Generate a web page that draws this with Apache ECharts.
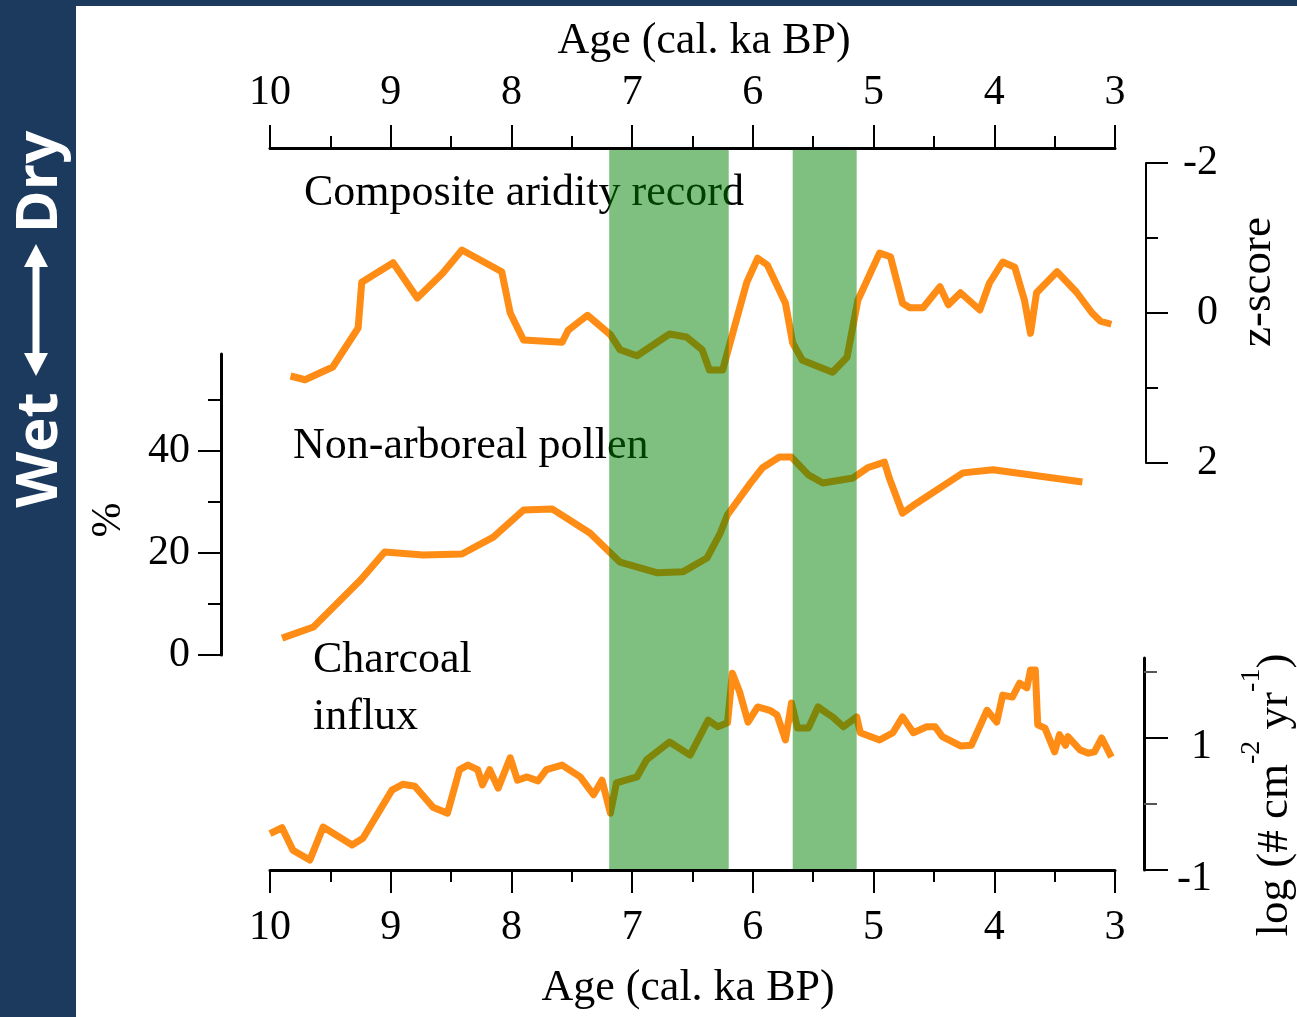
<!DOCTYPE html>
<html><head><meta charset="utf-8">
<script src="https://cdn.jsdelivr.net/npm/echarts@6/dist/echarts.min.js"></script>
<style>html,body{margin:0;padding:0;background:#fff}#c{width:1297px;height:1017px}</style>
</head><body><div id="c"></div>
<script>
// ---- data ----
const compositeAge = [9.83, 9.71, 9.48, 9.27, 9.24, 8.98, 8.78, 8.57, 8.41, 8.08, 8.01, 7.90, 7.58, 7.53, 7.37, 7.18, 7.10, 6.96, 6.69, 6.55, 6.42, 6.36, 6.25, 6.16, 6.05, 5.96, 5.88, 5.73, 5.67, 5.59, 5.34, 5.22, 5.13, 4.95, 4.86, 4.76, 4.70, 4.59, 4.45, 4.38, 4.28, 4.12, 4.04, 3.93, 3.83, 3.75, 3.70, 3.65, 3.48, 3.32, 3.19, 3.12, 3.03];
const compositeZ = [0.84, 0.89, 0.72, 0.20, -0.41, -0.67, -0.20, -0.53, -0.84, -0.55, 0.00, 0.36, 0.39, 0.23, 0.03, 0.29, 0.49, 0.57, 0.28, 0.32, 0.49, 0.76, 0.76, 0.23, -0.41, -0.73, -0.64, -0.13, 0.40, 0.63, 0.79, 0.59, -0.17, -0.80, -0.75, -0.13, -0.07, -0.07, -0.35, -0.11, -0.27, -0.04, -0.40, -0.68, -0.61, -0.17, 0.27, -0.27, -0.55, -0.28, 0.00, 0.11, 0.15];

const pollenAge = [9.90, 9.64, 9.25, 9.05, 8.73, 8.41, 8.15, 7.90, 7.66, 7.35, 7.10, 6.79, 6.58, 6.38, 6.27, 6.21, 6.02, 5.92, 5.78, 5.68, 5.54, 5.42, 5.17, 5.05, 4.91, 4.87, 4.76, 4.64, 4.26, 4.01, 3.27];
const pollenPct = [3.3, 5.5, 14.7, 20.2, 19.6, 19.8, 23.1, 28.4, 28.6, 23.9, 18.2, 16.1, 16.3, 19.0, 23.9, 27.5, 33.7, 36.7, 38.8, 38.8, 35.3, 33.7, 34.7, 36.7, 37.8, 34.7, 27.8, 29.8, 35.7, 36.3, 33.9];

const charcoalAge = [10.00, 9.90, 9.81, 9.67, 9.56, 9.32, 9.23, 8.99, 8.90, 8.80, 8.65, 8.53, 8.43, 8.36, 8.28, 8.24, 8.18, 8.11, 8.01, 7.95, 7.87, 7.78, 7.71, 7.58, 7.43, 7.32, 7.25, 7.18, 7.13, 6.96, 6.88, 6.69, 6.52, 6.37, 6.29, 6.21, 6.17, 6.11, 6.04, 5.96, 5.86, 5.80, 5.73, 5.68, 5.63, 5.54, 5.46, 5.39, 5.34, 5.25, 5.14, 5.11, 4.95, 4.84, 4.76, 4.67, 4.56, 4.49, 4.43, 4.28, 4.19, 4.06, 3.98, 3.93, 3.85, 3.79, 3.73, 3.70, 3.66, 3.64, 3.58, 3.50, 3.46, 3.41, 3.39, 3.29, 3.22, 3.17, 3.11, 3.03];
const charcoalLog = [-0.45, -0.36, -0.70, -0.85, -0.35, -0.62, -0.52, 0.21, 0.30, 0.27, -0.05, -0.14, 0.52, 0.59, 0.52, 0.29, 0.52, 0.24, 0.70, 0.36, 0.41, 0.35, 0.52, 0.59, 0.41, 0.14, 0.36, -0.14, 0.32, 0.41, 0.67, 0.94, 0.74, 1.27, 1.17, 1.23, 1.98, 1.70, 1.24, 1.47, 1.42, 1.35, 0.97, 1.53, 1.15, 1.15, 1.47, 1.38, 1.32, 1.17, 1.32, 1.08, 0.97, 1.08, 1.32, 1.08, 1.17, 1.17, 1.02, 0.88, 0.89, 1.42, 1.24, 1.65, 1.62, 1.83, 1.76, 2.03, 2.03, 1.20, 1.15, 0.79, 1.05, 0.89, 1.02, 0.82, 0.77, 0.79, 1.00, 0.71];

const greenBands = [[7.19, 6.20], [5.67, 5.14]];

const pctLongTicks = [0, 20, 40];
const pctShortTicks = [10, 30, 50];
const charLongTicks = [-1, 1];
const charShortTicks = [0, 2];

// ---- styles ----
const SERIF = '"Liberation Serif", "Times New Roman", serif';
const ORANGE = '#ff8c14';
const NAVY = '#1c3a5e';
const LW = 7;
const zip = (a, b) => a.map((v, i) => [v, b[i]]);
const blk = (w) => ({ color: '#000', width: w });

function hiddenX(gi) {
  return { type: 'value', gridIndex: gi, min: 3, max: 10, inverse: true, show: false };
}
const ageAxisCommon = {
  type: 'value', gridIndex: 0, min: 3, max: 10, inverse: true, interval: 1, z: 20,
  axisLine: { show: true, onZero: false, lineStyle: blk(3) },
  axisTick: { show: true, length: 23, lineStyle: blk(2) },
  minorTick: { show: true, splitNumber: 2, length: 12, lineStyle: blk(2) },
  splitLine: { show: false }, minorSplitLine: { show: false }
};

const option = {
  animation: false,
  backgroundColor: '#fff',
  grid: [
    { left: 270, top: 148, width: 845, height: 722 },
    { left: 270, top: 163, width: 845, height: 300 },
    { left: 270, top: 354, width: 845, height: 301 },
    { left: 270, top: 658, width: 845, height: 212 }
  ],
  xAxis: [
    Object.assign({}, ageAxisCommon, { position: 'top',
      axisLabel: { fontFamily: SERIF, fontSize: 42, color: '#000', margin: 34 } }),
    Object.assign({}, ageAxisCommon, { position: 'bottom',
      axisLabel: { fontFamily: SERIF, fontSize: 42, color: '#000', margin: 37 } }),
    hiddenX(1), hiddenX(2), hiddenX(3)
  ],
  yAxis: [
    { type: 'value', gridIndex: 0, min: 0, max: 1, show: false },
    { type: 'value', gridIndex: 1, position: 'right', offset: 31, min: -2, max: 2, inverse: true, interval: 2,
      axisLine: { show: true, onZero: false, lineStyle: blk(2) },
      axisTick: { show: true, length: 22, lineStyle: blk(2) },
      minorTick: { show: true, splitNumber: 2, length: 12, lineStyle: blk(2) },
      splitLine: { show: false }, minorSplitLine: { show: false },
      axisLabel: { fontFamily: SERIF, fontSize: 42, color: '#000', align: 'right', margin: 72 } },
    { type: 'value', gridIndex: 2, position: 'left', offset: 49, min: 0, max: 59,
      axisLine: { show: true, onZero: false, lineStyle: blk(3) },
      axisTick: { show: true, length: 23, customValues: pctLongTicks, lineStyle: blk(2) },
      splitLine: { show: false },
      axisLabel: { customValues: pctLongTicks, fontFamily: SERIF, fontSize: 42, color: '#000', margin: 31 } },
    { type: 'value', gridIndex: 2, position: 'left', offset: 49, min: 0, max: 59,
      axisLine: { show: false },
      axisTick: { show: true, length: 13, customValues: pctShortTicks, lineStyle: blk(2) },
      splitLine: { show: false }, axisLabel: { show: false } },
    { type: 'value', gridIndex: 3, position: 'right', offset: 29, min: -1, max: 2.212,
      axisLine: { show: true, onZero: false, lineStyle: blk(3) },
      axisTick: { show: true, length: 24, customValues: charLongTicks, lineStyle: blk(2) },
      splitLine: { show: false },
      axisLabel: { customValues: charLongTicks, fontFamily: SERIF, fontSize: 42, color: '#000', align: 'right', margin: 68,
        verticalAlign: 'top', lineHeight: 18 } },
    { type: 'value', gridIndex: 3, position: 'right', offset: 29, min: -1, max: 2.212,
      axisLine: { show: false },
      axisTick: { show: true, length: 13, customValues: charShortTicks, lineStyle: { color: '#555', width: 2 } },
      splitLine: { show: false }, axisLabel: { show: false } }
  ],
  series: [
    { name: 'Composite aridity record', type: 'line', xAxisIndex: 2, yAxisIndex: 1, data: zip(compositeAge, compositeZ),
      symbol: 'none', z: 5, silent: true, lineStyle: { color: ORANGE, width: LW, join: 'round' } },
    { name: 'Non-arboreal pollen', type: 'line', xAxisIndex: 3, yAxisIndex: 2, data: zip(pollenAge, pollenPct),
      symbol: 'none', z: 5, silent: true, lineStyle: { color: ORANGE, width: LW, join: 'round' } },
    { name: 'Charcoal influx', type: 'line', xAxisIndex: 4, yAxisIndex: 4, data: zip(charcoalAge, charcoalLog),
      symbol: 'none', z: 5, silent: true, lineStyle: { color: ORANGE, width: LW, join: 'round' } },
    { name: 'bands', type: 'line', xAxisIndex: 0, yAxisIndex: 0, data: [[10, 0]], symbol: 'none', z: 10, silent: true,
      lineStyle: { opacity: 0 },
      markArea: { z: 10, silent: true, itemStyle: { color: 'rgba(0,128,0,0.5)' }, label: { show: false },
        data: greenBands.map(b => [{ xAxis: b[0] }, { xAxis: b[1] }]) } }
  ],
  graphic: [
    { type: 'rect', shape: { x: 0, y: 0, width: 76, height: 1017 }, style: { fill: NAVY }, z: 50 },
    { type: 'rect', shape: { x: 0, y: 0, width: 1297, height: 6 }, style: { fill: NAVY }, z: 50 },
    { type: 'text', x: 40, y: 182, rotation: Math.PI / 2, z: 51,
      style: { text: 'Dry', fill: '#fff', font: 'bold 58px "Open Sans", sans-serif', textAlign: 'center', textVerticalAlign: 'middle' } },
    { type: 'text', x: 40, y: 450, rotation: Math.PI / 2, z: 51,
      style: { text: 'Wet', fill: '#fff', font: 'bold 58px "Open Sans", sans-serif', textAlign: 'center', textVerticalAlign: 'middle' } },
    { type: 'line', shape: { x1: 36, y1: 262, x2: 36, y2: 358 }, style: { stroke: '#fff', lineWidth: 7 }, z: 51 },
    { type: 'polygon', shape: { points: [[24, 267], [48, 267], [36, 244]] }, style: { fill: '#fff' }, z: 51 },
    { type: 'polygon', shape: { points: [[24, 353], [48, 353], [36, 376]] }, style: { fill: '#fff' }, z: 51 },

    { type: 'text', x: 704, y: 41, style: { text: 'Age (cal. ka BP)', fill: '#000', font: '44px ' + SERIF, textAlign: 'center', textVerticalAlign: 'middle' } },
    { type: 'text', x: 688, y: 988, style: { text: 'Age (cal. ka BP)', fill: '#000', font: '44px ' + SERIF, textAlign: 'center', textVerticalAlign: 'middle' } },

    { type: 'text', x: 304, y: 193, style: { text: 'Composite aridity record', fill: '#000', font: '44px ' + SERIF, textAlign: 'left', textVerticalAlign: 'middle' } },
    { type: 'text', x: 293, y: 446, style: { text: 'Non-arboreal pollen', fill: '#000', font: '44px ' + SERIF, textAlign: 'left', textVerticalAlign: 'middle' } },
    { type: 'text', x: 313, y: 660, style: { text: 'Charcoal', fill: '#000', font: '44px ' + SERIF, textAlign: 'left', textVerticalAlign: 'middle' } },
    { type: 'text', x: 313, y: 717, style: { text: 'influx', fill: '#000', font: '44px ' + SERIF, textAlign: 'left', textVerticalAlign: 'middle' } },

    { type: 'text', x: 109, y: 520, rotation: Math.PI / 2, style: { text: '%', fill: '#000', font: '42px ' + SERIF, textAlign: 'center', textVerticalAlign: 'middle' } },
    { type: 'text', x: 1258, y: 282, rotation: Math.PI / 2, style: { text: 'z-score', fill: '#000', font: '45px ' + SERIF, textAlign: 'center', textVerticalAlign: 'middle' } },
    { type: 'text', x: 1268, y: 795, rotation: Math.PI / 2,
      style: { text: '{m|log (# cm}{s|-2}{m| yr}{s|-1}{m|)}', fill: '#000', textAlign: 'center', textVerticalAlign: 'middle',
        rich: {
          m: { fontFamily: SERIF, fontSize: 45, lineHeight: 60, verticalAlign: 'bottom', fill: '#000' },
          s: { fontFamily: SERIF, fontSize: 28, lineHeight: 28, verticalAlign: 'top', fill: '#000' }
        } } }
  ]
};

const chart = echarts.init(document.getElementById('c'), null, { renderer: 'canvas' });
chart.setOption(option);
</script>
</body></html>
